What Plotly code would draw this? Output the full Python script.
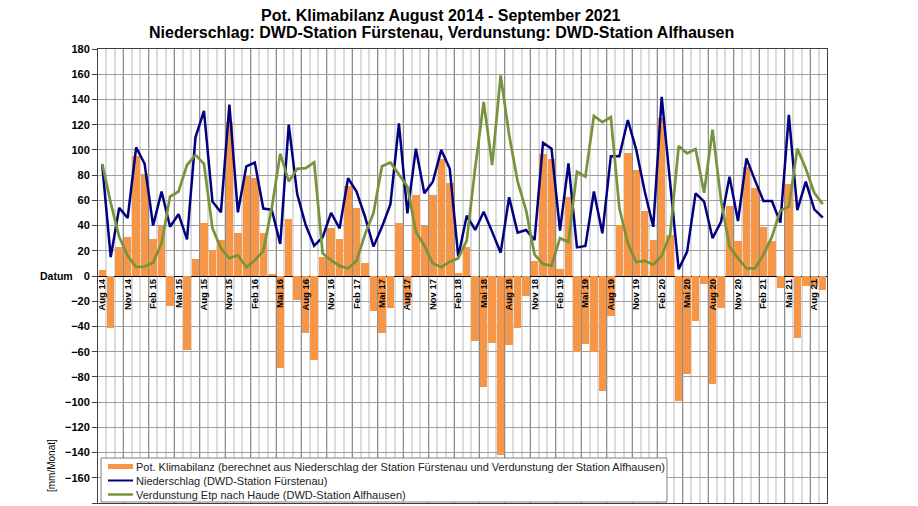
import plotly.graph_objects as go

# Monthly values, Aug 2014 .. Sep 2021 (86 months)
bilanz = [5, -41, 23, 31, 95, 81, 29, 40, -24, None,
          -59, 13.5, 42, 21, 28.5, 122, 34, 80, 78, 34,
          1, -73, 45, -19, -45.5, -66.5, 15, 38, 29, 71,
          54, 10, -27.5, -45.5, -25.5, 42, -23, 64, 40, 64,
          93, 73.5, 2, 22.7, -51.5, -88, -53, -142, -55, -41.5,
          -15.6, 12, 96.7, 93, 5.3, 63, -60.5, -54, -60.5, -91,
          -31.7, 40.4, 97.8, 84, 51.5, 28.5, 125, 32.5, -99, -78,
          -35.4, -6.3, -86, -25, 55.5, 27.8, 86.7, 69.5, 39, 27.8,
          -9.8, 72.7, -49, -8, -8, -11]

niederschlag = [88, 15, 54, 46, 102, 89, 40, 67, 39, 49,
                29, 110, 131, 59, 50.5, 136, 50.5, 87, 90, 53.5,
                52.5, 25.4, 120, 65, 40.4, 24, 30.7, 50, 37.8, 77.5,
                67, 47, 23.3, 39, 57, 121, 49.7, 101, 65.6, 74.8,
                100, 85, 15.3, 47.8, 36.5, 51, 35, 18.5, 62.4, 34.4,
                36.5, 28.5, 105.7, 101, 36, 89.3, 22.7, 23.8, 67, 33.8,
                95, 95, 123.7, 100, 67, 39, 142, 74.8, 5.3, 19.3,
                65.6, 59, 30, 43, 78.8, 43.6, 93.3, 76, 59.5, 59.5,
                42.3, 127.7, 52.3, 74.8, 52.9, 46.3]

verdunstung = [89, 58, 31, 16, 7, 7.5, 10.6, 26, 63, 67,
               88, 96, 89, 38, 22, 14, 16.6, 7, 12.5, 20,
               54, 97, 75, 85, 85.5, 90, 18, 12.5, 8, 6,
               12, 33, 50, 87, 90, 81, 71, 35, 24, 10,
               7, 11.4, 14, 28, 86, 138, 88, 159, 112, 75,
               52, 17, 9.5, 8.2, 30, 27, 82.7, 78.8, 127, 122,
               126, 54, 26, 11, 12, 9, 16, 33, 103, 97.3,
               100.7, 66, 116, 60, 23.3, 14, 6, 6, 17, 31,
               52, 55, 101, 85, 66, 57]

tick_labels = ["Aug 14", "Nov 14", "Feb 15", "Mai 15", "Aug 15", "Nov 15",
               "Feb 16", "Mai 16", "Aug 16", "Nov 16", "Feb 17", "Mai 17",
               "Aug 17", "Nov 17", "Feb 18", "Mai 18", "Aug 18", "Nov 18",
               "Feb 19", "Mai 19", "Aug 19", "Nov 19", "Feb 20", "Mai 20",
               "Aug 20", "Nov 20", "Feb 21", "Mai 21", "Aug 21"]

series_names = ["Pot. Klimabilanz (berechnet aus Niederschlag der Station Fürstenau und Verdunstung der Station Alfhausen)",
                "Niederschlag (DWD-Station Fürstenau)",
                "Verdunstung Etp nach Haude (DWD-Station Alfhausen)"]

n = len(bilanz)
idx = list(range(n))
tick_pos = list(range(0, n, 3))[:len(tick_labels)]
grid_pos = [k - 0.5 for k in range(0, n + 1, 3)]

FONT = "Arial, Liberation Sans, sans-serif"
ORANGE = "#F79646"
BLUE = "#000080"
GREEN = "#77933C"

# page body has an 8px margin -> figure drawn at (8, 8) in the window
OFF = 8
PL, PT, PR, PB = 98, 49, 827, 503  # plot area in window pixels
PW, PH = PR - PL, PB - PT


def px(X):
    return (X - PL) / PW


def py(Y):
    return (PB - Y) / PH


fig = go.Figure()
fig.add_trace(go.Bar(x=idx, y=bilanz, width=0.88, marker=dict(color=ORANGE, line=dict(width=0)),
                     name=series_names[0], showlegend=False, hoverinfo="y", xaxis="x", yaxis="y"))
fig.add_trace(go.Scatter(x=idx, y=niederschlag, mode="lines", line=dict(color=BLUE, width=2.5),
                         name=series_names[1], showlegend=False, xaxis="x2", yaxis="y"))
fig.add_trace(go.Scatter(x=idx, y=verdunstung, mode="lines", line=dict(color=GREEN, width=2.7),
                         name=series_names[2], showlegend=False, xaxis="x2", yaxis="y"))

# manual legend (compact rows like the original)
legend_colors = [ORANGE, BLUE, GREEN]
legend_widths = [5, 2, 2.5]
row_y = [466.5, 480.5, 494.5]
shapes = [dict(type="rect", xref="paper", yref="paper", x0=px(101), x1=px(667), y0=py(502), y1=py(458),
               fillcolor="white", line=dict(color="#808080", width=1), layer="above")]
annotations = []
for name, col, w, ry in zip(series_names, legend_colors, legend_widths, row_y):
    shapes.append(dict(type="line", xref="paper", yref="paper", x0=px(108), x1=px(133),
                       y0=py(ry), y1=py(ry), line=dict(color=col, width=w), layer="above"))
    annotations.append(dict(text=name, xref="paper", yref="paper", x=px(134), y=py(ry),
                            xanchor="left", yanchor="middle", showarrow=False,
                            font=dict(size=11, family=FONT, color="#222222")))

annotations += [
    dict(text="<b>Pot. Klimabilanz August 2014 - September 2021</b>", xref="paper", yref="paper",
         x=px(441), y=py(15), xanchor="center", yanchor="middle",
         showarrow=False, font=dict(size=16, family=FONT, color="black")),
    dict(text="<b>Niederschlag: DWD-Station Fürstenau, Verdunstung: DWD-Station Alfhausen</b>",
         xref="paper", yref="paper", x=px(441), y=py(32),
         xanchor="center", yanchor="middle", showarrow=False,
         font=dict(size=16, family=FONT, color="black")),
    dict(text="<b>Datum</b>", xref="paper", yref="y", x=px(56), y=0,
         xanchor="center", yanchor="middle", showarrow=False,
         font=dict(size=10.5, family=FONT, color="black")),
    dict(text="[mm/Monat]", xref="paper", yref="paper", x=px(51), y=py(466),
         xanchor="center", yanchor="middle", textangle=-90, showarrow=False,
         font=dict(size=10, family=FONT, color="black")),
]

xr = [-0.5, n - 0.5]
fig.update_layout(
    width=918 - OFF, height=506 - OFF,
    margin=dict(l=PL - OFF, r=918 - PR, t=PT - OFF, b=506 - PB, autoexpand=False),
    paper_bgcolor="white", plot_bgcolor="white",
    font=dict(family=FONT, color="black"),
    bargap=0,
    showlegend=False,
    xaxis=dict(range=xr, tickmode="array", tickvals=grid_pos, showticklabels=False, ticks="",
               showgrid=True, gridcolor="#8c8c8c", gridwidth=1, zeroline=False,
               showline=True, mirror=True, linecolor="#404040", linewidth=1,
               minor=dict(tick0=-0.5, dtick=1, showgrid=True, gridcolor="#dcdcdc", gridwidth=1.5)),
    xaxis2=dict(range=xr, overlaying="x", anchor="free", position=0.5, side="bottom",
                tickmode="array", tickvals=tick_pos, ticktext=tick_labels, tickangle=-90,
                tickfont=dict(size=9.5, family=FONT, color="black", weight="bold"),
                showgrid=False, zeroline=False, showline=False, ticks="", automargin=False),
    yaxis=dict(range=[-180, 180], dtick=20, tick0=0, showgrid=True, gridcolor="#a0a0a0", gridwidth=1,
               zeroline=True, zerolinecolor="#000000", zerolinewidth=1,
               showline=True, mirror=True, linecolor="#404040", linewidth=1,
               ticks="outside", ticklen=5, tickcolor="#404040", automargin=False,
               tickfont=dict(size=11, family=FONT, color="black", weight="bold")),
    shapes=shapes,
    annotations=annotations,
)

fig.write_html("out.html")
